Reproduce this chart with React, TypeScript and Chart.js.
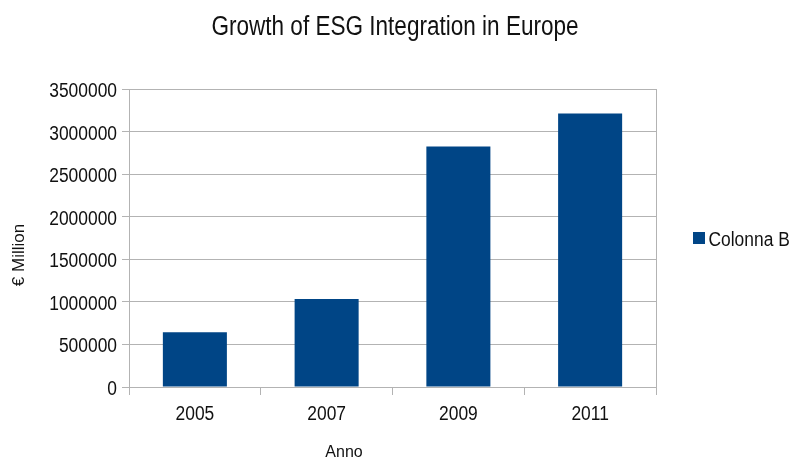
import React, { useEffect, useRef } from "react";
import { Chart, registerables } from "chart.js";

Chart.register(...registerables);

const categories = ["2005", "2007", "2009", "2011"];
const seriesLabel = "Colonna B";
const seriesValues = [644000, 1033000, 2826000, 3211000];
const yTicks = [0, 500000, 1000000, 1500000, 2000000, 2500000, 3000000, 3500000];
const titleText = "Growth of ESG Integration in Europe";
const xTitle = "Anno";
const yTitle = "€ Million";

const FONT = "'Liberation Sans', Arial, sans-serif";
const BAR = "#004586";
const GRID = "#b3b3b3";
const TEXT = "#111111";

function narrowText(ctx: any, text: string, x: number, y: number, size: number, sx: number, align: string) {
  ctx.save();
  ctx.translate(x, y);
  ctx.scale(sx, 1);
  ctx.font = `${size}px ${FONT}`;
  ctx.textAlign = align;
  ctx.textBaseline = "alphabetic";
  ctx.fillText(text, 0, 0);
  ctx.restore();
}

const textPlugin = {
  id: "lokText",
  afterDraw(chart: any) {
    const ctx = chart.ctx;
    const area = chart.chartArea;
    ctx.save();
    // plot frame right edge
    ctx.strokeStyle = GRID;
    ctx.lineWidth = 1;
    ctx.beginPath();
    ctx.moveTo(Math.round(area.right) + 0.5, area.top);
    ctx.lineTo(Math.round(area.right) + 0.5, area.bottom);
    ctx.stroke();

    ctx.fillStyle = TEXT;
    // y tick labels from the library's scale
    const ys = chart.scales.y;
    ys.ticks.forEach((t: any) => {
      const py = ys.getPixelForValue(t.value);
      narrowText(ctx, String(t.value), area.left - 12, py + 8, 20, 0.87, "right");
    });
    // x tick labels from the library's scale
    const xs = chart.scales.x;
    xs.ticks.forEach((t: any, i: number) => {
      const px = xs.getPixelForTick(i);
      narrowText(ctx, String(chart.data.labels[t.value]), px, area.bottom + 33, 20, 0.87, "center");
    });
    // title
    narrowText(ctx, titleText, 395, 35, 27, 0.835, "center");
    // x title
    ctx.font = `16px ${FONT}`;
    ctx.textAlign = "center";
    ctx.textBaseline = "alphabetic";
    ctx.fillText(xTitle, 344, 457);
    // y title
    ctx.save();
    ctx.translate(24, 255);
    ctx.rotate(-Math.PI / 2);
    ctx.font = `17px ${FONT}`;
    ctx.fillText(yTitle, 0, 0);
    ctx.restore();
    // legend
    chart.data.datasets.forEach((ds: any, i: number) => {
      const y = 238 + i * 24;
      ctx.fillStyle = ds.backgroundColor;
      ctx.fillRect(693, y - 6, 12, 12);
      ctx.fillStyle = TEXT;
      narrowText(ctx, ds.label, 708.5, y + 7.5, 20, 0.87, "left");
    });
    ctx.restore();
  },
};

export default function App() {
  const ref = useRef<HTMLCanvasElement | null>(null);
  useEffect(() => {
    document.body.style.margin = "0";
    const canvas = ref.current;
    if (!canvas) return;
    const chart = new Chart(canvas, {
      type: "bar",
      data: {
        labels: categories,
        datasets: [
          {
            label: seriesLabel,
            data: seriesValues,
            backgroundColor: BAR,
            borderWidth: 0,
            barPercentage: 0.486,
            categoryPercentage: 1,
          },
        ],
      },
      options: {
        animation: false,
        responsive: false,
        maintainAspectRatio: false,
        layout: { padding: { top: 89, right: 136, left: 0, bottom: 0 } },
        plugins: {
          legend: { display: false },
          title: { display: false },
          tooltip: { enabled: false },
        },
        scales: {
          x: {
            offset: true,
            grid: {
              display: true,
              offset: true,
              drawOnChartArea: false,
              drawTicks: true,
              tickLength: 8,
              color: GRID,
            },
            border: { display: true, color: GRID },
            ticks: { display: false },
            afterFit: (scale: any) => {
              scale.height = 72;
            },
          },
          y: {
            min: 0,
            max: 3500000,
            afterBuildTicks: (scale: any) => {
              scale.ticks = yTicks.map((v) => ({ value: v }));
            },
            grid: {
              color: GRID,
              tickLength: 7,
            },
            border: { display: true, color: GRID },
            ticks: { display: false },
            afterFit: (scale: any) => {
              scale.width = 129;
            },
          },
        },
      },
      plugins: [textPlugin],
    });
    return () => chart.destroy();
  }, []);
  return (
    <div style={{ width: 792, height: 459 }}>
      <canvas ref={ref} width={792} height={459} style={{ display: "block" }} />
    </div>
  );
}
